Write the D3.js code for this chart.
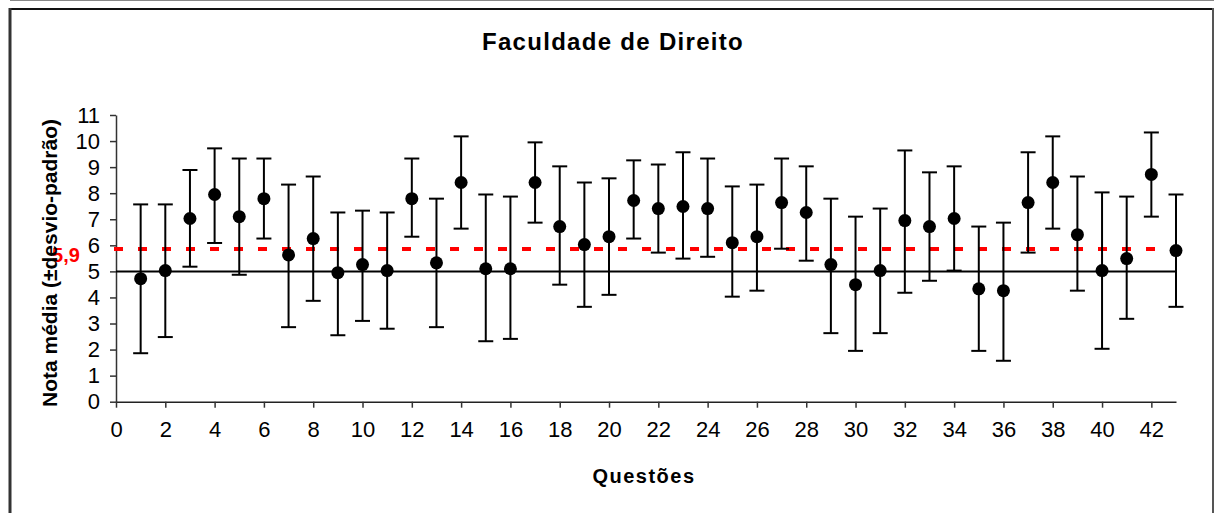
<!DOCTYPE html>
<html><head><meta charset="utf-8">
<script src="https://cdn.jsdelivr.net/npm/d3@7"></script>
<style>body{margin:0;background:#fff}svg{display:block}text{font-family:"Liberation Sans",Arial,sans-serif}</style>
</head><body>
<script>
const questions = d3.range(1, 44);
const means = [4.72,5.03,7.03,7.95,7.10,7.79,5.63,6.26,4.95,5.26,5.03,7.79,5.33,8.41,5.10,5.10,8.41,6.72,6.03,6.33,7.72,7.41,7.49,7.41,6.10,6.33,7.64,7.26,5.26,4.49,5.03,6.95,6.72,7.03,4.33,4.26,7.64,8.41,6.41,5.03,5.49,8.72,5.80];
const upper = [7.57,7.57,8.89,9.72,9.33,9.33,8.33,8.64,7.26,7.33,7.26,9.33,7.79,10.18,7.95,7.87,9.95,9.03,8.41,8.57,9.26,9.10,9.57,9.33,8.26,8.33,9.33,9.03,7.79,7.10,7.41,9.64,8.80,9.03,6.72,6.87,9.57,10.18,8.64,8.03,7.87,10.33,7.95];
const lower = [1.86,2.48,5.18,6.09,4.87,6.26,2.86,3.87,2.55,3.10,2.80,6.33,2.86,6.64,2.32,2.41,6.87,4.49,3.64,4.10,6.26,5.72,5.49,5.56,4.03,4.26,5.87,5.41,2.63,1.95,2.63,4.18,4.64,5.03,1.95,1.57,5.72,6.64,4.26,2.03,3.18,7.10,3.64];
const xTicks = d3.range(0, 43, 2);
const yTicks = d3.range(0, 12);
const overallMean = 5.86;
const overallMeanLabel = "5,9";
const passMark = 5;

const W = 1214, H = 513;
const svg = d3.select("body").append("svg").attr("width", W).attr("height", H);

// frame
svg.append("line").attr("x1",10).attr("x2",W).attr("y1",0.5).attr("y2",0.5).attr("stroke","#888").attr("stroke-width",1);
svg.append("line").attr("x1",10).attr("x2",1212).attr("y1",9).attr("y2",9).attr("stroke","#111").attr("stroke-width",2);
svg.append("line").attr("x1",10).attr("x2",10).attr("y1",8).attr("y2",H).attr("stroke","#333").attr("stroke-width",3);
svg.append("line").attr("x1",1213).attr("x2",1213).attr("y1",8).attr("y2",H).attr("stroke","#555").attr("stroke-width",2);

const x = d3.scaleLinear().domain([0, 43]).range([116, 1176]);
const y = d3.scaleLinear().domain([0, 11]).range([401.7, 115]);

// axes
const gx = svg.append("g").attr("transform", `translate(0,${y(0)})`)
  .call(d3.axisBottom(x).tickValues(xTicks).tickSize(6).tickSizeOuter(0).tickPadding(14));
const gy = svg.append("g").attr("transform", `translate(${x(0)},0)`)
  .call(d3.axisLeft(y).tickValues(yTicks).tickSize(6).tickSizeOuter(0).tickPadding(10));
[gx, gy].forEach(g => {
  g.selectAll("path,line").attr("stroke","#333").attr("stroke-width",1.5);
  g.selectAll("text").attr("font-size",22).attr("fill","#000").attr("font-family","'Liberation Sans',Arial,sans-serif");
});
gx.select(".domain").attr("stroke","#222");

// pass mark line
svg.append("line").attr("x1", x(0)).attr("x2", x(43)).attr("y1", y(passMark)).attr("y2", y(passMark))
  .attr("stroke","#000").attr("stroke-width",2);

// overall mean dashed line
svg.append("line").attr("x1", x(0) - 2).attr("x2", x(42.55)).attr("y1", y(overallMean)).attr("y2", y(overallMean))
  .attr("stroke","#ff0000").attr("stroke-width",4).attr("stroke-dasharray","9,15");
svg.append("text").attr("x", 66).attr("y", y(overallMean) + 13).attr("text-anchor","middle")
  .attr("font-size",20).attr("font-weight","bold").attr("fill","#ff0000").text(overallMeanLabel);

// error bars
const data = questions.map((q, i) => ({q, m: means[i], hi: upper[i], lo: lower[i]}));
const eb = svg.append("g").attr("stroke","#000").attr("stroke-width",2);
data.forEach(d => {
  eb.append("line").attr("x1", x(d.q)).attr("x2", x(d.q)).attr("y1", y(d.hi)).attr("y2", y(d.lo));
  eb.append("line").attr("x1", x(d.q) - 7.5).attr("x2", x(d.q) + 7.5).attr("y1", y(d.hi)).attr("y2", y(d.hi));
  eb.append("line").attr("x1", x(d.q) - 7.5).attr("x2", x(d.q) + 7.5).attr("y1", y(d.lo)).attr("y2", y(d.lo));
});
svg.append("g").selectAll("circle").data(data).enter().append("circle")
  .attr("cx", d => x(d.q)).attr("cy", d => y(d.m)).attr("r", 6.5).attr("fill","#000");

// titles
svg.append("text").attr("x", 613).attr("y", 50).attr("text-anchor","middle")
  .attr("font-size",24).attr("font-weight","bold").attr("letter-spacing",1.3).text("Faculdade de Direito");
svg.append("text").attr("x", 644).attr("y", 483).attr("text-anchor","middle")
  .attr("font-size",20).attr("font-weight","bold").attr("letter-spacing",1.5).text("Questões");
svg.append("text").attr("transform", `translate(57,263) rotate(-90)`).attr("text-anchor","middle")
  .attr("font-size",21).attr("font-weight","bold").text("Nota média (±desvio-padrão)");
</script>
</body></html>
